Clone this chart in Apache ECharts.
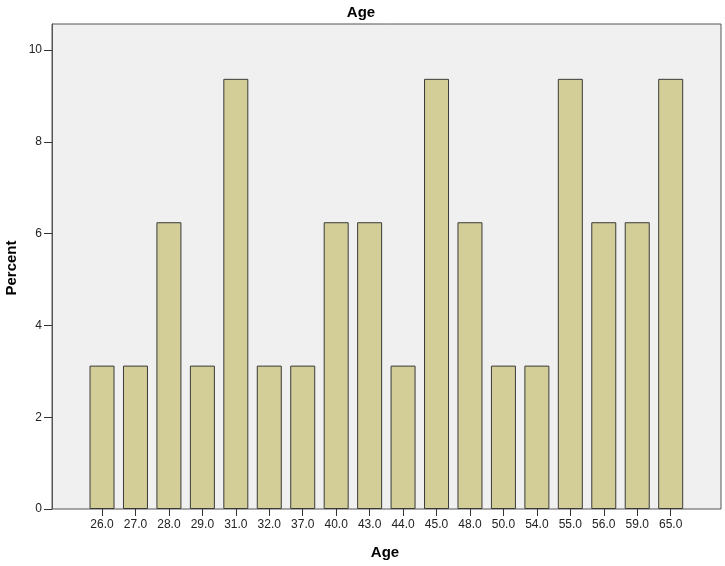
<!DOCTYPE html>
<html><head><meta charset="utf-8">
<script src="https://cdn.jsdelivr.net/npm/echarts@6/dist/echarts.min.js"></script>
<style>html,body{margin:0;padding:0;background:#fff}#c{width:725px;height:566px}</style>
</head><body><div id="c"></div>
<script>
const categories = ['26.0','27.0','28.0','29.0','31.0','32.0','37.0','40.0','43.0','44.0','45.0','48.0','50.0','54.0','55.0','56.0','59.0','65.0'];
const percentValues = [3.125,3.125,6.25,3.125,9.375,3.125,3.125,6.25,6.25,3.125,9.375,6.25,3.125,3.125,9.375,6.25,6.25,9.375];
const yTicks = [0,2,4,6,8,10];
const chartTitle = 'Age';
const xTitle = 'Age';
const yTitle = 'Percent';

const font = 'Liberation Sans, Arial, sans-serif';
const yMax = 10.57;
const chart = echarts.init(document.getElementById('c'));
chart.setOption({
  animation: false,
  title: {text: chartTitle, left: 356, top: 0, textAlign: 'center',
    textStyle: {fontFamily: font, fontSize: 15, fontWeight: 'bold', color: '#000'}},
  graphic: [
    {type: 'text', x: 385, y: 553, style: {text: xTitle, textAlign: 'center', textVerticalAlign: 'middle', font: 'bold 15px ' + font, fill: '#000'}},
    {type: 'text', rotation: Math.PI / 2, x: 12, y: 268, style: {text: yTitle, textAlign: 'center', textVerticalAlign: 'middle', font: 'bold 15px ' + font, fill: '#000'}}
  ],
  grid: [
    {left: 52, right: 4, top: 24, bottom: 57, show: true, backgroundColor: '#f0f0f0', borderColor: '#555', borderWidth: 1},
    {left: 85.3, right: 37.6, top: 24, bottom: 57}
  ],
  xAxis: [
    {gridIndex: 0, type: 'value', show: false, min: 0, max: 1},
    {gridIndex: 1, type: 'category', data: categories,
      axisLine: {show: false},
      axisTick: {show: true, alignWithLabel: true, length: 7, lineStyle: {color: '#333'}},
      axisLabel: {fontFamily: font, fontSize: 12, color: '#222', margin: 10, interval: 0}}
  ],
  yAxis: [
    {gridIndex: 0, type: 'value', min: 0, max: yMax, interval: 2,
      axisLine: {show: true, lineStyle: {color: '#555'}},
      axisTick: {show: true, inside: false, length: 8, lineStyle: {color: '#333'}},
      splitLine: {show: false},
      axisLabel: {fontFamily: font, fontSize: 12, color: '#222', margin: 10,
        showMaxLabel: false,
        formatter: v => yTicks.includes(v) ? String(v) : ''}},
    {gridIndex: 1, type: 'value', min: 0, max: yMax, show: false}
  ],
  series: [{
    type: 'bar', xAxisIndex: 1, yAxisIndex: 1, data: percentValues, barWidth: 25,
    itemStyle: {color: '#d3ce97', borderColor: '#3a3a3a', borderWidth: 1}
  }]
});
</script></body></html>
